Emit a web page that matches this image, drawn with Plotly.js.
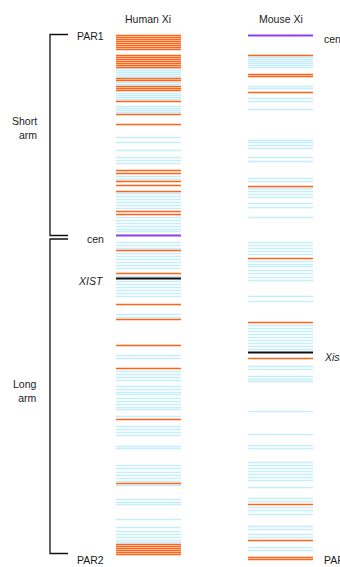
<!DOCTYPE html>
<html><head><meta charset="utf-8">
<script src="https://cdn.plot.ly/plotly-3.0.1.min.js"></script>
<style>html,body{margin:0;padding:0;background:#fff}#c{width:340px;height:567px}</style>
</head><body><div id="c"></div>
<script>
// Gene positions along the X chromosome (vertical position)
const humanOrange = [36,38,40,42,44,46,48,50,56,58,60,62,64,66,68,79,81,87,89,91,102,115,125,171,174,182,186,192,212,215,251,274,305,320,346,369,420,484,545,547,549,551,553,555];
const humanBlue = [69,71,73,75,77,83,85,94,96,98,100,107,109,111,113,138,143,151,158,161,164,177,180,194,197,200,203,206,209,218,221,224,227,230,232,243,246,249,254,257,260,263,266,269,277,282,285,288,291,294,297,315,318,356,359,372,375,378,381,387,390,393,395,399,402,405,408,410,417,427,430,433,436,447,449,466,469,473,476,479,482,486,500,503,505,520,528,532,535,538,541,543];
const humanCen = [236];
const humanXist = [279];

const mouseOrange = [56,75,77,93,187,259,323,359,505,541,558,560];
const mouseBlue = [58,60,62,64,66,68,87,89,99,102,110,141,143,146,149,158,162,179,182,189,192,195,198,204,208,218,243,246,249,252,255,262,265,267,271,274,278,281,297,302,326,329,332,335,338,341,344,347,350,367,370,377,380,382,412,435,446,449,463,466,469,472,475,478,481,488,499,502,508,511,515,527,530,535,538,548,551];
const mouseCen = [36];
const mouseXist = [353];

const columnLabels = ["Human Xi", "Mouse Xi"];
const humanLandmarks = ["PAR1", "cen", "XIST", "PAR2"];
const mouseLandmarks = ["cen", "Xist", "PAR2"];
const armLabels = ["Short<br>arm", "Long<br>arm"];

(function () {
const HX = [116, 181], MX = [248, 313];
function seg(ys, xr, color, w) {
  const x = [], y = [];
  ys.forEach(v => { x.push(xr[0], xr[1], null); y.push(v, v, null); });
  return {type:'scatter', mode:'lines', x, y, line:{color, width:w}, hoverinfo:'skip', showlegend:false, connectgaps:false};
}
const BLUE = '#c6edfa', OR = '#ff6419', PUR = '#8d3ef0';
const traces = [
  seg(humanBlue, HX, BLUE, 1.4), seg(mouseBlue, MX, BLUE, 1.4),
  seg(humanOrange, HX, OR, 1.4), seg(mouseOrange, MX, OR, 1.4),
  seg(humanCen, HX, PUR, 2), seg(mouseCen, MX, PUR, 2),
  seg(humanXist, HX, '#111', 2), seg(mouseXist, MX, '#111', 2)
];

const font = {family:'Liberation Sans, Arial, sans-serif', size:10.5, color:'#1a1a1a'};
const ann = (text, x, y, xanchor, extra) => Object.assign({text, x, y, xref:'x', yref:'y', xanchor, yanchor:'middle', showarrow:false, font}, extra||{});
const yTop = humanOrange[0] - 1, cenY = humanCen[0], yBot = humanOrange[humanOrange.length-1] - 1;
const annotations = [
  ann(columnLabels[0], 148, 19, 'center'),
  ann(columnLabels[1], 281, 19, 'center'),
  ann(humanLandmarks[0], 106, yTop + 1, 'right'),
  ann(humanLandmarks[1], 106, cenY + 3, 'right'),
  ann('<i>' + humanLandmarks[2] + '</i>', 106, humanXist[0] + 2, 'right'),
  ann(humanLandmarks[3], 106, 560, 'right'),
  ann(mouseLandmarks[0], 322, mouseCen[0] + 3, 'left'),
  ann('<i>' + mouseLandmarks[1] + '</i>', 322, mouseXist[0] + 4, 'left'),
  ann(mouseLandmarks[2], 322, 560, 'left'),
  ann(armLabels[0], 39, 128, 'right', {align:'right'}),
  ann(armLabels[1], 39, 391, 'right', {align:'right'})
];
const L = {color:'#111', width:1.3};
const shapes = [
  {type:'path', xref:'x', yref:'y', path:`M 68 ${yTop} L 50 ${yTop} L 50 ${cenY} L 68 ${cenY}`, line:L},
  {type:'path', xref:'x', yref:'y', path:`M 68 ${cenY+3.5} L 50 ${cenY+3.5} L 50 ${yBot} L 68 ${yBot}`, line:L}
];

Plotly.newPlot('c', traces, {
  width:340, height:567, margin:{l:0,r:0,t:0,b:0},
  paper_bgcolor:'#fff', plot_bgcolor:'#fff',
  xaxis:{range:[0,340], visible:false, fixedrange:true},
  yaxis:{range:[567.5,0.5], visible:false, fixedrange:true},
  annotations, shapes, showlegend:false
}, {staticPlot:true, displayModeBar:false});
})();
</script></body></html>
